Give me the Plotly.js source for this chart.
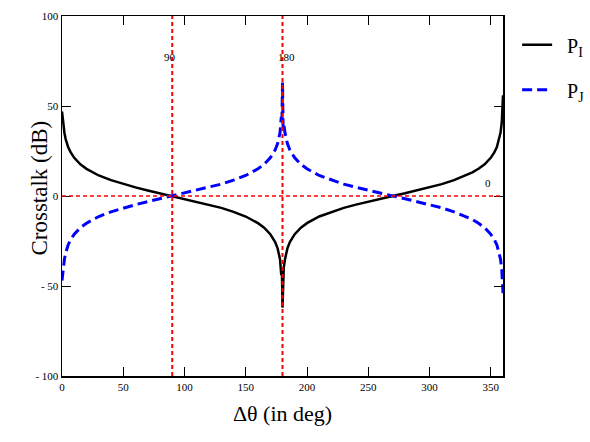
<!DOCTYPE html>
<html>
<head>
<meta charset="utf-8">
<script src="https://cdn.plot.ly/plotly-3.0.1.min.js"></script>
<style>html,body{margin:0;padding:0;background:#fff;}#chart{width:590px;height:442px;}</style>
</head>
<body>
<div id="chart"></div>
<script>
// angle in degrees
var theta = [0, 0.5, 1, 2, 3, 5, 7, 10, 15, 20, 25, 30, 40, 50, 60, 70, 80, 90,
  100, 110, 120, 130, 140, 150, 160, 165, 170, 174, 176, 177, 178, 179, 179.5, 180,
  180.5, 181, 182, 183, 184, 186, 190, 195, 200, 210, 220, 230, 240, 250, 260, 270,
  280, 290, 300, 310, 320, 330, 335, 340, 345, 350, 353, 355, 357, 358, 359, 359.5, 360];
// crosstalk P_I (dB)
var pI = [47, 45, 41, 35, 31.6, 27.2, 24.3, 21.2, 17.6, 15.1, 13.1, 11.4, 8.8, 6.6, 4.8, 3.1, 1.5, 0,
  -1.5, -3.1, -4.8, -6.6, -8.8, -11.4, -15.1, -17.6, -21.2, -25.6, -29.1, -31.6, -35.2, -44, -40, -62,
  -46, -40, -35.2, -31.6, -29.1, -25.6, -21.2, -17.6, -15.1, -11.4, -8.8, -6.6, -4.8, -3.1, -1.5, 0,
  1.5, 3.1, 4.8, 6.6, 8.8, 11.4, 13.1, 15.1, 17.6, 21.2, 24.3, 27.2, 31.6, 35.2, 41, 47, 56];
// crosstalk P_J (dB)
var pJ = [-47, -45, -41, -35, -31.6, -27.2, -24.3, -21.2, -17.6, -15.1, -13.1, -11.4, -8.8, -6.6, -4.8, -3.1, -1.5, 0,
  1.5, 3.1, 4.8, 6.6, 8.8, 11.4, 15.1, 17.6, 21.2, 25.6, 29.1, 31.6, 35.2, 44, 40, 63,
  38, 40, 35.2, 31.6, 29.1, 25.6, 21.2, 17.6, 15.1, 11.4, 8.8, 6.6, 4.8, 3.1, 1.5, 0,
  -1.5, -3.1, -4.8, -6.6, -8.8, -11.4, -13.1, -15.1, -17.6, -21.2, -24.3, -27.2, -31.6, -35.2, -41, -47, -54];
var xTicks = [0, 50, 100, 150, 200, 250, 300, 350];
var yTicks = [-100, -50, 0, 50, 100];
var yTickText = ["- 100", "- 50", "0", "50", "100"];
var markerLines = [90, 180];

var serif = "Liberation Serif";
var traces = [
  {x: theta, y: pI, mode: "lines", name: "\u00a0\u00a0P<sub>I</sub>", legendgroup: "a",
   line: {color: "#000000", width: 2.5}},
  {x: theta, y: pJ, mode: "lines", name: "\u00a0\u00a0P<sub>J</sub>", legendgroup: "b",
   line: {color: "#0000ff", width: 3, dash: "10px,5px"}}
];
var shapes = markerLines.map(function (v) {
  return {type: "line", xref: "x", yref: "paper", x0: v, x1: v, y0: 0, y1: 1,
          line: {color: "#ff0000", width: 2, dash: "4px,3px"}};
});
shapes.push({type: "line", xref: "paper", yref: "y", x0: 0, x1: 1, y0: 0, y1: 0,
             line: {color: "#ff0000", width: 1.3, dash: "4px,3px"}});
var annotations = [
  {x: 88.5, y: 77, text: "90"},
  {x: 183.5, y: 77, text: "180"},
  {x: 348, y: 7, text: "0"}
].map(function (a) {
  a.xref = "x"; a.yref = "y"; a.showarrow = false;
  a.font = {family: serif, size: 11, color: "#000"};
  return a;
});
annotations.push({xref: "paper", yref: "paper", x: -0.084, y: 0.522, textangle: -90,
  showarrow: false, text: "Crosstalk (dB)",
  font: {family: serif, size: 23, color: "#000"}});

var layout = {
  width: 590, height: 442,
  margin: {l: 62, r: 87, t: 16, b: 66, autoexpand: false},
  paper_bgcolor: "#ffffff", plot_bgcolor: "#ffffff",
  showlegend: true,
  legend: {x: 1.032, y: 0.974, xanchor: "left", yanchor: "top",
           font: {family: serif, size: 20, color: "#000"},
           bgcolor: "rgba(0,0,0,0)", itemwidth: 30, tracegroupgap: 16},
  xaxis: {range: [0, 360], tickvals: xTicks, ticks: "inside", ticklen: 9,
          tickcolor: "#000", showline: true, linecolor: "#000", linewidth: 1.5,
          mirror: "ticks", showgrid: false, zeroline: false,
          tickfont: {family: serif, size: 11, color: "#000"},
          title: {text: "Δθ (in deg)", font: {family: serif, size: 22, color: "#000"}, standoff: 14}},
  yaxis: {range: [-100, 100], tickvals: yTicks, ticktext: yTickText, ticks: "inside", ticklen: 9,
          tickcolor: "#000", showline: true, linecolor: "#000", linewidth: 1.5,
          mirror: "ticks", showgrid: false, zeroline: false,
          tickfont: {family: serif, size: 11, color: "#000"}},
  shapes: shapes,
  annotations: annotations
};
Plotly.newPlot("chart", traces, layout, {displayModeBar: false, staticPlot: true});
</script>
</body>
</html>
